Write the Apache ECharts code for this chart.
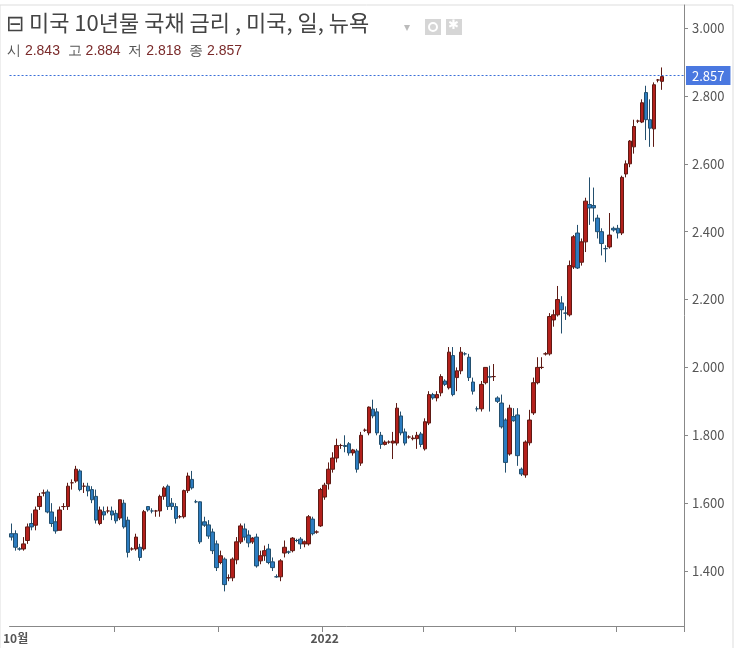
<!DOCTYPE html>
<html><head><meta charset="utf-8">
<script src="https://cdn.jsdelivr.net/npm/echarts@6/dist/echarts.min.js"></script>
<style>html,body{margin:0;padding:0;background:#fff}#b{width:737px;height:648px}</style>
</head><body><div id="b"></div>
<script>
// 일봉: 시가, 종가, 저가, 고가
var openV=[1.51,1.51,1.465,1.465,1.49,1.54,1.535,1.59,1.63,1.633,1.574,1.545,1.52,1.59,1.59,1.66,1.665,1.695,1.65,1.65,
1.64,1.62,1.54,1.575,1.577,1.577,1.57,1.556,1.60,1.55,1.465,1.465,1.47,1.465,1.59,1.577,1.577,1.577,1.62,1.65,
1.60,1.59,1.56,1.56,1.637,1.67,1.604,1.604,1.545,1.536,1.515,1.48,1.425,1.435,1.38,1.38,1.433,1.486,1.524,1.506,
1.486,1.50,1.43,1.445,1.465,1.427,1.383,1.383,1.453,1.456,1.46,1.49,1.494,1.48,1.48,1.553,1.515,1.533,1.618,1.657,
1.70,1.733,1.77,1.77,1.775,1.748,1.754,1.718,1.815,1.807,1.877,1.869,1.80,1.773,1.78,1.777,1.777,1.857,1.81,1.795,
1.79,1.79,1.804,1.76,1.836,1.92,1.91,1.925,1.96,1.94,2.035,1.97,1.99,2.04,2.03,1.957,1.878,1.878,1.955,1.972,
1.973,1.91,1.895,1.845,1.745,1.855,1.86,1.70,1.683,1.778,1.866,1.955,2.0,2.04,2.04,2.14,2.155,2.19,2.16,2.155,
2.296,2.396,2.31,2.37,2.48,2.477,2.44,2.40,2.35,2.355,2.41,2.41,2.396,2.57,2.60,2.65,2.726,2.723,2.81,2.73,
2.703,2.847,2.843];
var closeV=[1.50,1.47,1.465,1.48,1.53,1.53,1.58,1.62,1.63,1.574,1.54,1.518,1.58,1.59,1.65,1.66,1.70,1.64,1.65,1.636,
1.61,1.55,1.58,1.565,1.577,1.565,1.548,1.61,1.53,1.455,1.465,1.50,1.44,1.575,1.58,1.577,1.577,1.62,1.645,1.59,
1.59,1.555,1.56,1.637,1.68,1.645,1.604,1.486,1.535,1.503,1.46,1.41,1.445,1.36,1.38,1.435,1.486,1.533,1.50,1.483,
1.497,1.415,1.445,1.46,1.425,1.41,1.383,1.43,1.47,1.456,1.497,1.49,1.48,1.486,1.56,1.51,1.515,1.64,1.653,1.70,
1.733,1.77,1.77,1.767,1.748,1.757,1.70,1.80,1.815,1.883,1.857,1.807,1.773,1.78,1.78,1.783,1.88,1.807,1.777,1.795,
1.792,1.80,1.773,1.84,1.92,1.91,1.92,1.973,1.95,2.045,1.92,1.99,2.045,2.04,1.97,1.93,1.878,1.95,2.0,1.972,
1.973,1.90,1.825,1.72,1.88,1.843,1.74,1.686,1.78,1.845,1.955,2.0,2.0,2.04,2.15,2.155,2.20,2.17,2.16,2.30,
2.385,2.293,2.37,2.49,2.47,2.47,2.40,2.365,2.35,2.39,2.405,2.396,2.56,2.60,2.667,2.71,2.726,2.78,2.73,2.705,
2.833,2.847,2.857];
var lowV=[1.49,1.46,1.46,1.46,1.48,1.52,1.52,1.58,1.62,1.57,1.53,1.51,1.52,1.58,1.58,1.64,1.66,1.635,1.63,1.62,
1.60,1.54,1.535,1.55,1.57,1.55,1.54,1.55,1.525,1.44,1.46,1.46,1.43,1.46,1.575,1.57,1.56,1.56,1.61,1.58,
1.58,1.54,1.555,1.555,1.63,1.64,1.60,1.48,1.53,1.495,1.45,1.40,1.42,1.34,1.37,1.37,1.42,1.48,1.49,1.47,
1.48,1.41,1.42,1.43,1.42,1.40,1.38,1.37,1.44,1.45,1.455,1.485,1.465,1.47,1.475,1.505,1.51,1.53,1.61,1.64,
1.69,1.72,1.76,1.75,1.74,1.74,1.69,1.71,1.81,1.80,1.85,1.80,1.76,1.77,1.775,1.73,1.77,1.80,1.77,1.79,
1.785,1.76,1.765,1.755,1.83,1.905,1.90,1.915,1.945,1.935,1.915,1.93,1.98,2.035,1.96,1.92,1.87,1.87,1.95,1.87,
1.96,1.895,1.82,1.69,1.74,1.84,1.71,1.68,1.675,1.77,1.86,1.95,1.995,2.035,2.035,2.12,2.15,2.10,2.14,2.15,
2.29,2.29,2.30,2.34,2.42,2.43,2.38,2.33,2.31,2.35,2.40,2.38,2.39,2.56,2.59,2.63,2.72,2.72,2.67,2.65,
2.65,2.84,2.818];
var highV=[1.54,1.52,1.47,1.50,1.54,1.57,1.59,1.63,1.64,1.64,1.60,1.56,1.59,1.60,1.66,1.67,1.71,1.70,1.66,1.66,
1.65,1.64,1.59,1.59,1.59,1.59,1.58,1.61,1.61,1.56,1.47,1.51,1.48,1.58,1.59,1.585,1.58,1.625,1.65,1.655,
1.615,1.60,1.565,1.64,1.69,1.695,1.61,1.605,1.56,1.55,1.525,1.49,1.46,1.44,1.39,1.44,1.50,1.54,1.54,1.52,
1.50,1.51,1.46,1.475,1.48,1.44,1.39,1.435,1.49,1.46,1.50,1.495,1.50,1.49,1.565,1.56,1.52,1.645,1.66,1.72,
1.75,1.79,1.775,1.80,1.78,1.76,1.76,1.81,1.82,1.885,1.905,1.88,1.81,1.785,1.785,1.81,1.895,1.87,1.82,1.80,
1.80,1.81,1.81,1.85,1.93,1.925,1.93,1.98,1.965,2.06,2.06,2.00,2.06,2.045,2.04,1.97,1.885,1.96,2.00,2.005,
2.01,1.915,1.92,1.85,1.89,1.88,1.88,1.705,1.785,1.875,1.97,2.03,2.03,2.045,2.16,2.17,2.24,2.21,2.18,2.315,
2.39,2.42,2.38,2.50,2.56,2.53,2.45,2.41,2.36,2.455,2.415,2.42,2.565,2.61,2.67,2.73,2.73,2.79,2.83,2.79,
2.84,2.85,2.884];
var slotCount=168;               // 오른쪽 여백 포함 슬롯 수
var tickIdx=[26,52,78,103,126,151]; // 월 경계
var xLabels={1:'10월',78:'2022'};
var yTicks=[1.4,1.6,1.8,2.0,2.2,2.4,2.6,2.8,3.0];
var lastClose=2.857;

var cats=[],kdata=[];
for(var i=0;i<slotCount;i++){
  cats.push(String(i));
  if(i<openV.length) kdata.push([openV[i],closeV[i],lowV[i],highV[i]]);
}

var myChart=echarts.init(document.getElementById('b'));
var option={
  animation:false,
  textStyle:{fontFamily:'"Noto Sans CJK KR","Noto Sans",sans-serif'},
  grid:{left:0,right:53,top:5,bottom:22},
  xAxis:{
    type:'category',data:cats,boundaryGap:true,
    axisLine:{lineStyle:{color:'#888'}},
    axisTick:{show:true,interval:function(i){return tickIdx.indexOf(i)>=0;},length:6,lineStyle:{color:'#888'}},
    axisLabel:{interval:function(i){return xLabels[i]!==undefined;},formatter:function(v,i){return xLabels[i]||'';},
      color:'#555',fontSize:12,fontWeight:'bold',margin:6},
    splitLine:{show:false}
  },
  yAxis:{
    type:'value',position:'right',min:1.238,max:3.068,scale:true,
    axisLine:{show:true,lineStyle:{color:'#888'}},
    axisTick:{show:true,customValues:yTicks,length:4,lineStyle:{color:'#888'}},
    axisLabel:{customValues:yTicks,formatter:function(v){return v.toFixed(3);},color:'#555',fontSize:13,margin:8},
    splitLine:{show:false}
  },
  graphic:[
    {type:'rect',shape:{x:0,y:5,width:733,height:660},style:{fill:'none',stroke:'#ddd',lineWidth:1},silent:true},
    {type:'text',left:6,top:12,style:{text:'⊟ 미국 10년물 국채 금리 , 미국, 일, 뉴욕',fill:'#444',fontSize:22,
      fontFamily:'"Noto Sans CJK KR",sans-serif'}},
    {type:'text',left:404,top:22,style:{text:'▾',fill:'#bbb',fontSize:12}},
    {type:'rect',shape:{x:425,y:19,width:16,height:16},style:{fill:'#d6d6d6'}},
    {type:'circle',shape:{cx:433,cy:27,r:4},style:{fill:'none',stroke:'#fff',lineWidth:2}},
    {type:'rect',shape:{x:446,y:19,width:16,height:16},style:{fill:'#d6d6d6'}},
    {type:'text',x:448,y:19,style:{text:'✱',fill:'#fff',fontSize:13}},
    {type:'text',left:7,top:44,style:{rich:{l:{fill:'#555',fontSize:14},v:{fill:'#7a2a2a',fontSize:14}},
      text:'{l|시 }{v|2.843}{l|  고 }{v|2.884}{l|  저 }{v|2.818}{l|  종 }{v|2.857}',
      fontFamily:'"Noto Sans CJK KR",sans-serif'}}
  ],
  series:[{
    type:'candlestick',data:kdata,barWidth:4,
    itemStyle:{color:'#b3201c',color0:'#2c7cc0',borderColor:'#5e1a14',borderColor0:'#234f6e',borderWidth:1},
    markLine:{symbol:'none',silent:true,
      lineStyle:{color:'#3a6fd8',type:[2,2],width:1,opacity:1},
      label:{position:'end',formatter:function(){return lastClose.toFixed(3);},color:'#fff',backgroundColor:'#4a78e0',
        padding:[3,6,3,6],fontSize:13,distance:2},
      data:[{yAxis:lastClose}]}
  }]
};
option && myChart.setOption(option);
</script></body></html>
